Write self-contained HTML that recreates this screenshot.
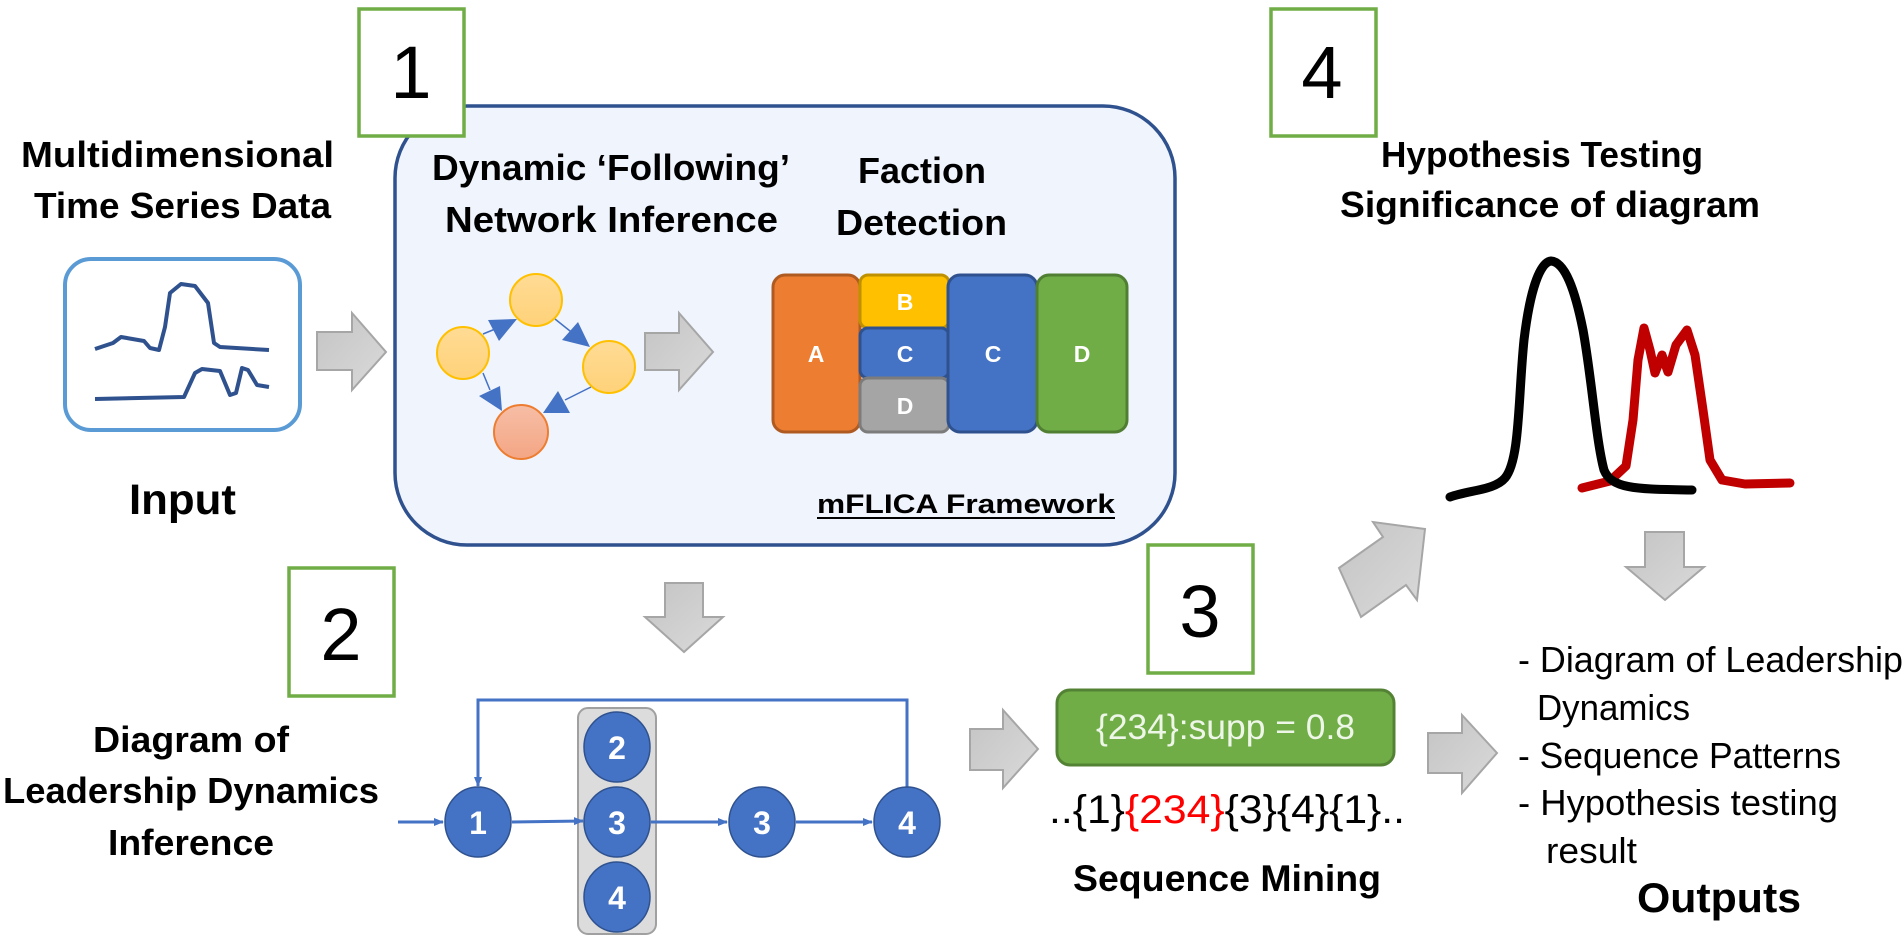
<!DOCTYPE html>
<html><head><meta charset="utf-8"><style>
html,body{margin:0;padding:0;background:#fff;}
svg{display:block;}
text{font-family:"Liberation Sans",sans-serif;}
.b{font-weight:bold;}
</style></head><body>
<svg width="1903" height="940" viewBox="0 0 1903 940" xmlns="http://www.w3.org/2000/svg">
<defs>
<linearGradient id="ga" x1="0" y1="0" x2="1" y2="1"><stop offset="0" stop-color="#c4c4c4"/><stop offset="1" stop-color="#dadada"/></linearGradient>
<linearGradient id="gy" x1="0" y1="0" x2="0" y2="1"><stop offset="0" stop-color="#ffdb94"/><stop offset="1" stop-color="#ffd27a"/></linearGradient>
<linearGradient id="go" x1="0" y1="0" x2="0" y2="1"><stop offset="0" stop-color="#f6bea6"/><stop offset="1" stop-color="#f4a684"/></linearGradient>
<marker id="m" markerWidth="10" markerHeight="10" refX="9" refY="5" orient="auto" markerUnits="userSpaceOnUse"><path d="M0,1 L10,5 L0,9 z" fill="#4472c4"/></marker>
</defs>

<rect x="395" y="106" width="780" height="439" rx="72" fill="#f0f4fc" stroke="#2f528f" stroke-width="3.5"/>

<rect x="359" y="9" width="105" height="127" fill="#fff" stroke="#70ad47" stroke-width="3.5"/>
<text x="411" y="98" font-size="74" text-anchor="middle">1</text>
<rect x="289" y="568" width="105" height="128" fill="#fff" stroke="#70ad47" stroke-width="3.5"/>
<text x="341" y="660" font-size="74" text-anchor="middle">2</text>
<rect x="1148" y="545" width="105" height="128" fill="#fff" stroke="#70ad47" stroke-width="3.5"/>
<text x="1200" y="637" font-size="74" text-anchor="middle">3</text>
<rect x="1271" y="9" width="105" height="127" fill="#fff" stroke="#70ad47" stroke-width="3.5"/>
<text x="1322" y="98" font-size="74" text-anchor="middle">4</text>

<text class="b" x="21" y="167" font-size="36" textLength="313" lengthAdjust="spacingAndGlyphs">Multidimensional</text>
<text class="b" x="34" y="218" font-size="36" textLength="297" lengthAdjust="spacingAndGlyphs">Time Series Data</text>
<text class="b" x="432" y="180" font-size="36" textLength="358" lengthAdjust="spacingAndGlyphs">Dynamic ‘Following’</text>
<text class="b" x="445" y="232" font-size="36" textLength="333" lengthAdjust="spacingAndGlyphs">Network Inference</text>
<text class="b" x="858" y="183" font-size="36" textLength="128" lengthAdjust="spacingAndGlyphs">Faction</text>
<text class="b" x="836" y="235" font-size="36" textLength="171" lengthAdjust="spacingAndGlyphs">Detection</text>
<text class="b" x="1381" y="167" font-size="36" textLength="322" lengthAdjust="spacingAndGlyphs">Hypothesis Testing</text>
<text class="b" x="1340" y="217" font-size="36" textLength="420" lengthAdjust="spacingAndGlyphs">Significance of diagram</text>
<text class="b" x="129" y="514" font-size="43" textLength="107" lengthAdjust="spacingAndGlyphs">Input</text>
<text class="b" x="93" y="752" font-size="36" textLength="196" lengthAdjust="spacingAndGlyphs">Diagram of</text>
<text class="b" x="3" y="803" font-size="36" textLength="376" lengthAdjust="spacingAndGlyphs">Leadership Dynamics</text>
<text class="b" x="108" y="855" font-size="36" textLength="166" lengthAdjust="spacingAndGlyphs">Inference</text>
<text class="b" x="817" y="513" font-size="27" textLength="298" lengthAdjust="spacingAndGlyphs">mFLICA Framework</text>
<line x1="817" y1="518" x2="1115" y2="518" stroke="#000" stroke-width="2"/>
<text class="b" x="1073" y="891" font-size="37" textLength="308" lengthAdjust="spacingAndGlyphs">Sequence Mining</text>
<text class="b" x="1637" y="912" font-size="42" textLength="164" lengthAdjust="spacingAndGlyphs">Outputs</text>

<rect x="65" y="259" width="235" height="171" rx="26" fill="#fff" stroke="#5b9bd5" stroke-width="4"/>
<polyline fill="none" stroke="#2f528f" stroke-width="4" stroke-linejoin="round" points="95,349 113,343 121,337 144,341 150,348 159,350 165,327 170,293 181,284 195,286 208,303 214,343 220,347 269,350"/>
<polyline fill="none" stroke="#2f528f" stroke-width="4" stroke-linejoin="round" points="95,399 184,397 195,373 202,369 220,371 230,395 236,393 242,368 248,370 257,385 269,387"/>

<polygon points="317,332 352,332 352,313 386,352 352,390 352,370 317,370" fill="url(#ga)" stroke="#a6a6a6" stroke-width="2"/>
<polygon points="645,333 679,333 679,313 713,352 679,390 679,370 645,370" fill="url(#ga)" stroke="#a6a6a6" stroke-width="2"/>
<polygon points="665,583 703,583 703,617 723,617 684,652 645,617 665,617" fill="url(#ga)" stroke="#a6a6a6" stroke-width="2"/>
<polygon points="970,729 1003,729 1003,710 1038,749 1003,788 1003,770 970,770" fill="url(#ga)" stroke="#a6a6a6" stroke-width="2"/>
<polygon points="1428,733 1462,733 1462,715 1497,753 1462,793 1462,773 1428,773" fill="url(#ga)" stroke="#a6a6a6" stroke-width="2"/>
<polygon points="1645,532 1684,532 1684,567 1704,567 1665,600 1626,567 1645,567" fill="url(#ga)" stroke="#a6a6a6" stroke-width="2"/>
<polygon points="1339,568 1383,537 1373,522 1425,529 1417,600 1406,585 1361,617" fill="url(#ga)" stroke="#a6a6a6" stroke-width="2"/>

<g stroke="#4472c4" stroke-width="1.5">
<line x1="483" y1="334" x2="505" y2="325"/><line x1="555" y1="319" x2="575" y2="335"/>
<line x1="483" y1="373" x2="490" y2="390"/><line x1="591" y1="387" x2="565" y2="400"/>
</g>
<g fill="#4472c4">
<polygon points="517,319 488,320 499,341"/>
<polygon points="590,347 578,322 562,340"/>
<polygon points="502,411 479,396 500,386"/>
<polygon points="543,413 570,413 558,391"/>
</g>
<circle cx="536" cy="300" r="26" fill="url(#gy)" stroke="#ffc000" stroke-width="2"/>
<circle cx="463" cy="353" r="26" fill="url(#gy)" stroke="#ffc000" stroke-width="2"/>
<circle cx="609" cy="367" r="26" fill="url(#gy)" stroke="#ffc000" stroke-width="2"/>
<circle cx="521" cy="432" r="27" fill="url(#go)" stroke="#ed7d31" stroke-width="2"/>

<g stroke-width="3">
<rect x="773" y="275" width="87" height="157" rx="12" fill="#ed7d31" stroke="#ae5a21"/>
<rect x="860" y="275" width="89" height="53" rx="8" fill="#ffc000" stroke="#bf9000"/>
<rect x="860" y="328" width="89" height="50" rx="8" fill="#4472c4" stroke="#2f528f"/>
<rect x="860" y="378" width="89" height="54" rx="8" fill="#a5a5a5" stroke="#7c7c7c"/>
<rect x="948" y="275" width="89" height="157" rx="12" fill="#4472c4" stroke="#2f528f"/>
<rect x="1037" y="275" width="90" height="157" rx="12" fill="#70ad47" stroke="#507e32"/>
</g>
<g fill="#fff" font-size="23" text-anchor="middle" font-weight="bold">
<text x="816" y="362">A</text><text x="905" y="310">B</text><text x="905" y="362">C</text>
<text x="905" y="414">D</text><text x="993" y="362">C</text><text x="1082" y="362">D</text>
</g>

<rect x="578" y="708" width="78" height="226" rx="10" fill="#dcdcdc" stroke="#a0a0a0" stroke-width="2"/>
<g stroke="#4472c4" stroke-width="3" fill="none">
<line x1="398" y1="822" x2="443" y2="822" marker-end="url(#m)"/>
<line x1="512" y1="822" x2="583" y2="821" marker-end="url(#m)"/>
<line x1="651" y1="822" x2="727" y2="822" marker-end="url(#m)"/>
<line x1="796" y1="822" x2="872" y2="822" marker-end="url(#m)"/>
<polyline points="907,787 907,700 478,700 478,786" marker-end="url(#m)"/>
</g>
<g fill="#4472c4" stroke="#2f528f" stroke-width="1.5">
<ellipse cx="478" cy="822" rx="33" ry="35"/>
<ellipse cx="617" cy="747" rx="33" ry="35"/>
<ellipse cx="617" cy="822" rx="33" ry="35"/>
<ellipse cx="617" cy="897" rx="33" ry="35"/>
<ellipse cx="762" cy="822" rx="33" ry="35"/>
<ellipse cx="907" cy="822" rx="33" ry="35"/>
</g>
<g fill="#fff" font-size="32" font-weight="bold" text-anchor="middle">
<text x="478" y="834">1</text><text x="617" y="759">2</text><text x="617" y="834">3</text>
<text x="617" y="909">4</text><text x="762" y="834">3</text><text x="907" y="834">4</text>
</g>

<rect x="1057" y="690" width="337" height="75" rx="13" fill="#70ad47" stroke="#548235" stroke-width="3"/>
<text x="1096" y="739" font-size="35" fill="#eef6e8" textLength="259" lengthAdjust="spacingAndGlyphs">{234}:supp = 0.8</text>
<text x="1049" y="823" font-size="40" textLength="356" lengthAdjust="spacingAndGlyphs">..{1}<tspan fill="#ff0000">{234}</tspan>{3}{4}{1}..</text>

<polyline fill="none" stroke="#c00000" stroke-width="9" stroke-linejoin="round" stroke-linecap="round" points="1582,488 1610,481 1626,466 1633,420 1638,360 1644,328 1650,350 1655,373 1662,355 1668,372 1676,345 1687,330 1695,355 1703,410 1710,460 1722,480 1745,484 1790,483"/>
<path fill="none" stroke="#000" stroke-width="9" stroke-linejoin="round" stroke-linecap="round" d="M1450,497 C1470,490 1495,490 1505,478 C1520,460 1518,400 1524,340 C1530,290 1540,262 1551,261 C1565,262 1575,290 1583,330 C1592,380 1596,440 1604,470 C1612,490 1640,489 1692,490"/>

<g font-size="36">
<text x="1518" y="672" textLength="385" lengthAdjust="spacingAndGlyphs">- Diagram of Leadership</text>
<text x="1537" y="720" textLength="153" lengthAdjust="spacingAndGlyphs">Dynamics</text>
<text x="1518" y="768" textLength="323" lengthAdjust="spacingAndGlyphs">- Sequence Patterns</text>
<text x="1518" y="815" textLength="320" lengthAdjust="spacingAndGlyphs">- Hypothesis testing</text>
<text x="1546" y="863" textLength="91" lengthAdjust="spacingAndGlyphs">result</text>
</g>
</svg>
</body></html>
